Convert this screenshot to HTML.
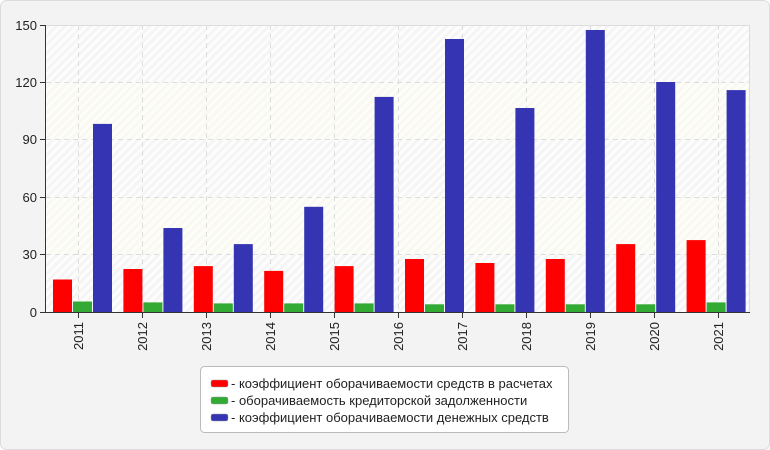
<!DOCTYPE html>
<html><head><meta charset="utf-8"><style>
body{margin:0;background:#fff;}
svg{display:block;font-family:"Liberation Sans",sans-serif;}
</style></head><body>
<svg width="770" height="450" xmlns="http://www.w3.org/2000/svg">
<defs>
<pattern id="h" width="6" height="6" patternUnits="userSpaceOnUse" patternTransform="rotate(45)">
<rect width="6" height="6" fill="#f5f5f5"/><rect width="3" height="6" fill="#fdfdfd"/></pattern>
<pattern id="y" width="6" height="6" patternUnits="userSpaceOnUse" patternTransform="rotate(45)">
<rect width="6" height="6" fill="#f9f9f1"/><rect width="3" height="6" fill="#fdfdf9"/></pattern>
</defs>
<rect x="0.5" y="0.5" width="769" height="449" rx="6" fill="#f3f3f3" stroke="#dcdcdc"/>
<rect x="46" y="25" width="704" height="57.4" fill="url(#h)"/>
<rect x="46" y="82.4" width="704" height="57.4" fill="url(#y)"/>
<rect x="46" y="139.8" width="704" height="57.4" fill="url(#h)"/>
<rect x="46" y="197.2" width="704" height="57.4" fill="url(#y)"/>
<rect x="46" y="254.6" width="704" height="57.4" fill="url(#h)"/>
<g stroke="#dddddd" stroke-dasharray="5,4" stroke-width="1">
<line x1="46" x2="750" y1="82.5" y2="82.5"/><line x1="46" x2="750" y1="139.5" y2="139.5"/>
<line x1="46" x2="750" y1="197.5" y2="197.5"/><line x1="46" x2="750" y1="254.5" y2="254.5"/>
<line x1="78.5" x2="78.5" y1="25" y2="312"/><line x1="142.5" x2="142.5" y1="25" y2="312"/>
<line x1="206.5" x2="206.5" y1="25" y2="312"/><line x1="270.5" x2="270.5" y1="25" y2="312"/>
<line x1="334.5" x2="334.5" y1="25" y2="312"/><line x1="398.5" x2="398.5" y1="25" y2="312"/>
<line x1="462.5" x2="462.5" y1="25" y2="312"/><line x1="526.5" x2="526.5" y1="25" y2="312"/>
<line x1="590.5" x2="590.5" y1="25" y2="312"/><line x1="654.5" x2="654.5" y1="25" y2="312"/>
<line x1="718.5" x2="718.5" y1="25" y2="312"/>
</g>
<line x1="46" x2="750" y1="25.5" y2="25.5" stroke="#dddddd"/>
<line x1="749.5" x2="749.5" y1="25" y2="312" stroke="#dddddd"/>
<g fill="#ff0000">
<rect x="53" y="279.5" width="19" height="32.5"/>
<rect x="123.4" y="269" width="19" height="43"/>
<rect x="193.8" y="266.1" width="19" height="45.9"/>
<rect x="264.2" y="270.9" width="19" height="41.1"/>
<rect x="334.6" y="266.1" width="19" height="45.9"/>
<rect x="405" y="259" width="19" height="53"/>
<rect x="475.4" y="263" width="19" height="49"/>
<rect x="545.8" y="259" width="19" height="53"/>
<rect x="616.2" y="244.1" width="19" height="67.9"/>
<rect x="686.6" y="240.1" width="19" height="71.9"/>
</g>
<g fill="#33aa33">
<rect x="73" y="301.5" width="19" height="10.5"/>
<rect x="143.4" y="302.4" width="19" height="9.6"/>
<rect x="213.8" y="303.4" width="19" height="8.6"/>
<rect x="284.2" y="303.4" width="19" height="8.6"/>
<rect x="354.6" y="303.4" width="19" height="8.6"/>
<rect x="425" y="304.3" width="19" height="7.7"/>
<rect x="495.4" y="304.3" width="19" height="7.7"/>
<rect x="565.8" y="304.3" width="19" height="7.7"/>
<rect x="636.2" y="304.3" width="19" height="7.7"/>
<rect x="706.6" y="302.4" width="19" height="9.6"/>
</g>
<g fill="#3535b3">
<rect x="93" y="123.9" width="19" height="188.1"/>
<rect x="163.4" y="228" width="19" height="84"/>
<rect x="233.8" y="244.1" width="19" height="67.9"/>
<rect x="304.2" y="206.8" width="19" height="105.2"/>
<rect x="374.6" y="96.9" width="19" height="215.1"/>
<rect x="445" y="39" width="19" height="273"/>
<rect x="515.4" y="108" width="19" height="204"/>
<rect x="585.8" y="30" width="19" height="282"/>
<rect x="656.2" y="82" width="19" height="230"/>
<rect x="726.6" y="90.1" width="19" height="221.9"/>
</g>
<g stroke="#333" stroke-width="1">
<line x1="45.5" x2="45.5" y1="25" y2="313"/><line x1="45" x2="750" y1="312.5" y2="312.5"/>
<line x1="40" x2="46" y1="25.5" y2="25.5"/><line x1="40" x2="46" y1="82.5" y2="82.5"/><line x1="40" x2="46" y1="139.5" y2="139.5"/>
<line x1="40" x2="46" y1="197.5" y2="197.5"/><line x1="40" x2="46" y1="254.5" y2="254.5"/><line x1="40" x2="46" y1="312.5" y2="312.5"/>
<line x1="78.5" x2="78.5" y1="312" y2="318"/><line x1="142.5" x2="142.5" y1="312" y2="318"/><line x1="206.5" x2="206.5" y1="312" y2="318"/>
<line x1="270.5" x2="270.5" y1="312" y2="318"/><line x1="334.5" x2="334.5" y1="312" y2="318"/><line x1="398.5" x2="398.5" y1="312" y2="318"/>
<line x1="462.5" x2="462.5" y1="312" y2="318"/><line x1="526.5" x2="526.5" y1="312" y2="318"/><line x1="590.5" x2="590.5" y1="312" y2="318"/>
<line x1="654.5" x2="654.5" y1="312" y2="318"/><line x1="718.5" x2="718.5" y1="312" y2="318"/>
</g>
<g font-size="13" fill="#222" text-anchor="end">
<text x="37" y="30">150</text><text x="37" y="87">120</text><text x="37" y="144">90</text>
<text x="37" y="202">60</text><text x="37" y="259">30</text><text x="37" y="317">0</text>
</g>
<g font-size="13" fill="#222" text-anchor="end">
<text transform="translate(83,322) rotate(-90)">2011</text>
<text transform="translate(147,322) rotate(-90)">2012</text>
<text transform="translate(211,322) rotate(-90)">2013</text>
<text transform="translate(275,322) rotate(-90)">2014</text>
<text transform="translate(339,322) rotate(-90)">2015</text>
<text transform="translate(403,322) rotate(-90)">2016</text>
<text transform="translate(467,322) rotate(-90)">2017</text>
<text transform="translate(531,322) rotate(-90)">2018</text>
<text transform="translate(595,322) rotate(-90)">2019</text>
<text transform="translate(659,322) rotate(-90)">2020</text>
<text transform="translate(723,322) rotate(-90)">2021</text>
</g>
<rect x="200.5" y="366.5" width="368" height="66" rx="4" fill="#fff" stroke="#bbb"/>
<rect x="211" y="380" width="17" height="7" rx="2" fill="#ff0000" stroke="#999" stroke-width="0.5"/>
<rect x="211" y="397" width="17" height="7" rx="2" fill="#33aa33" stroke="#999" stroke-width="0.5"/>
<rect x="211" y="414" width="17" height="7" rx="2" fill="#3535b3" stroke="#999" stroke-width="0.5"/>
<g font-size="13" fill="#222">
<text x="231" y="388">- коэффициент оборачиваемости средств в расчетах</text>
<text x="231" y="405">- оборачиваемость кредиторской задолженности</text>
<text x="231" y="422">- коэффициент оборачиваемости денежных средств</text>
</g>
</svg>
</body></html>
